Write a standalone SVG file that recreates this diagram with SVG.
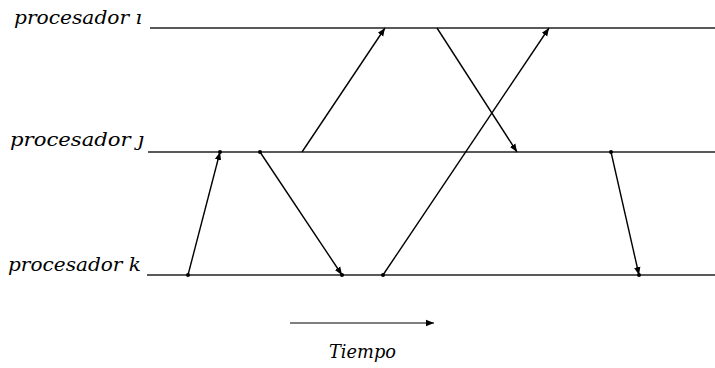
<svg xmlns="http://www.w3.org/2000/svg" width="715" height="368" viewBox="0 0 715 368">
<style>
.lbl{font-family:"DejaVu Serif","Liberation Serif",serif;font-style:italic;font-size:18px;fill:#000}
.axis{stroke:#222;stroke-width:1.4;fill:none}
.msg{stroke:#000;stroke-width:1.4;fill:none;marker-end:url(#ah)}
.dot{fill:#000}
</style>
<defs>
<marker id="ah" viewBox="0 0 10 10" refX="10" refY="5" markerWidth="8" markerHeight="8" markerUnits="userSpaceOnUse" orient="auto">
<path d="M0,1 L10,5 L0,9 z" fill="#000"/>
</marker>
</defs>
<rect width="715" height="368" fill="#fff"/>
<g id="proc-i">
<text class="lbl" x="14" y="24" textLength="128" lengthAdjust="spacingAndGlyphs">procesador ı</text>
<line class="axis" x1="150" y1="28" x2="715" y2="28"/>
</g>
<g id="proc-j">
<text class="lbl" x="10" y="146" textLength="134" lengthAdjust="spacingAndGlyphs">procesador ȷ</text>
<line class="axis" x1="148" y1="152" x2="715" y2="152"/>
</g>
<g id="proc-k">
<text class="lbl" x="8" y="271" textLength="133" lengthAdjust="spacingAndGlyphs">procesador k</text>
<line class="axis" x1="147" y1="275" x2="715" y2="275"/>
</g>
<g id="connectors">
<line class="msg" x1="188" y1="275" x2="220" y2="152"/>
<line class="msg" x1="260" y1="152" x2="342" y2="275"/>
<line class="msg" x1="302" y1="152" x2="385" y2="28"/>
<line class="msg" x1="437" y1="28" x2="517" y2="152"/>
<line class="msg" x1="383" y1="275" x2="549" y2="28"/>
<line class="msg" x1="611" y1="152" x2="639" y2="275"/>
<circle class="dot" cx="188" cy="275" r="2"/>
<circle class="dot" cx="220" cy="152" r="2"/>
<circle class="dot" cx="260" cy="152" r="2"/>
<circle class="dot" cx="342" cy="275" r="2"/>
<circle class="dot" cx="383" cy="275" r="2"/>
<circle class="dot" cx="611" cy="152" r="2"/>
<circle class="dot" cx="639" cy="275" r="2"/>
</g>
<g id="tiempo">
<line class="msg" x1="290" y1="323" x2="434" y2="323" style="stroke-width:1.2"/>
<text class="lbl" x="329" y="358" textLength="67" lengthAdjust="spacingAndGlyphs">Tiempo</text>
</g>
</svg>
